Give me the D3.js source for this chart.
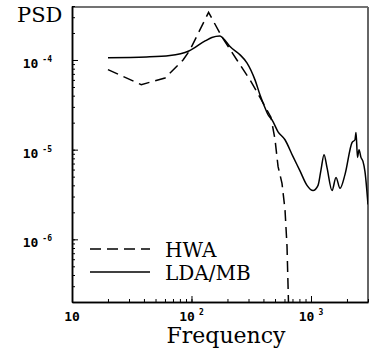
<!DOCTYPE html>
<html>
<head>
<meta charset="utf-8">
<script src="https://cdn.jsdelivr.net/npm/d3@7/dist/d3.min.js"></script>
<style>
	html, body { margin: 0; padding: 0; background: #fff; }
	svg { display: block; }
</style>
</head>
<body>
<script>
(function() {
	'use strict';

	// DATA //

	var hwaFreq = [ 20, 38, 60, 85, 97, 139, 180, 240, 309, 353, 420, 462, 500, 530, 572, 606, 630, 648 ],
		hwaPsd = [ 7.8e-5, 5.3e-5, 6.3e-5, 1.0e-4, 1.29e-4, 3.4e-4, 1.8e-4, 1.0e-4, 6.0e-5, 4.4e-5, 2.9e-5, 2.3e-5, 1.3e-5, 6.5e-6, 4.2e-6, 2.15e-6, 8.4e-7, 2.0e-7 ];

	var ldaFreq = [ 20, 42, 66, 95, 130, 148, 173, 183, 210, 255, 291, 340, 374, 412, 437, 472, 530, 606, 706, 809, 926, 1040, 1146, 1214, 1286, 1362, 1500, 1620, 1750, 1927, 2204, 2335, 2382, 2450, 2523, 2620, 2723, 2830, 3000 ],
		ldaPsd = [ 1.06e-4, 1.08e-4, 1.12e-4, 1.26e-4, 1.63e-4, 1.78e-4, 1.85e-4, 1.76e-4, 1.41e-4, 1.14e-4, 9.3e-5, 6.0e-5, 4.1e-5, 2.93e-5, 2.45e-5, 2.15e-5, 1.58e-5, 1.29e-5, 8.4e-6, 5.8e-6, 4.0e-6, 3.5e-6, 4.0e-6, 6.0e-6, 8.8e-6, 6.3e-6, 3.5e-6, 4.9e-6, 3.7e-6, 5.3e-6, 1.2e-5, 1.29e-5, 1.55e-5, 8.2e-6, 1.0e-5, 8.2e-6, 7.4e-6, 5.7e-6, 2.45e-6 ];

	var seriesNames = [ 'HWA', 'LDA/MB' ],
		xDomain = [ 10, 3000 ],
		yDomain = [ 2e-7, 4e-4 ],
		xTickValues = [ 10, 100, 1000 ],
		xTickExps = [ '', '2', '3' ],
		yTickValues = [ 1e-4, 1e-5, 1e-6 ],
		yTickExps = [ '-4', '-5', '-6' ];


	// FIGURE //

	var w = 375,
		h = 351,
		left = 72,
		right = 368,
		top = 6,
		bottom = 302,
		x, y, svg, graph, series, legend;

	x = d3.scaleLog().domain( xDomain ).range( [ left, right ] );
	y = d3.scaleLog().domain( yDomain ).range( [ bottom, top ] );

	svg = d3.select( 'body' ).append( 'svg' )
		.attr( 'width', w )
		.attr( 'height', h );

	// Clip the curves to the plot area:
	svg.append( 'clipPath' )
		.attr( 'id', 'plot-clip' )
	  .append( 'rect' )
		.attr( 'x', left )
		.attr( 'y', top )
		.attr( 'width', right - left )
		.attr( 'height', bottom - top );

	// Frame (top and right are grey in the original):
	svg.append( 'line' )
		.attr( 'x1', left ).attr( 'x2', right )
		.attr( 'y1', top + 1 ).attr( 'y2', top + 1 )
		.attr( 'stroke', '#444' ).attr( 'stroke-width', 1.5 );
	svg.append( 'line' )
		.attr( 'x1', right ).attr( 'x2', right )
		.attr( 'y1', top + 1 ).attr( 'y2', bottom )
		.attr( 'stroke', '#666' ).attr( 'stroke-width', 2 );

	// Axes (ticks point inward):
	function styleAxis( g ) {
		g.select( '.domain' ).attr( 'stroke', '#000' ).attr( 'stroke-width', 1.5 );
		g.selectAll( '.tick line' ).attr( 'stroke', '#000' ).attr( 'stroke-width', 1 );
		g.selectAll( '.tick text' ).remove();
	}

	svg.append( 'g' )
		.attr( 'transform', 'translate(0,' + bottom + ')' )
		.call( d3.axisBottom( x ).tickValues( x.ticks() ).tickSizeInner( -3 ).tickSizeOuter( 0 ) )
		.call( styleAxis );
	svg.append( 'g' )
		.attr( 'transform', 'translate(0,' + bottom + ')' )
		.call( d3.axisBottom( x ).tickValues( xTickValues ).tickSizeInner( -6 ).tickSizeOuter( 0 ) )
		.call( styleAxis );

	svg.append( 'g' )
		.attr( 'transform', 'translate(' + left + ',0)' )
		.call( d3.axisLeft( y ).tickValues( y.ticks() ).tickSizeInner( -3 ).tickSizeOuter( 0 ) )
		.call( styleAxis );
	svg.append( 'g' )
		.attr( 'transform', 'translate(' + left + ',0)' )
		.call( d3.axisLeft( y ).tickValues( yTickValues ).tickSizeInner( -6 ).tickSizeOuter( 0 ) )
		.call( styleAxis );

	// Tick labels with superscripts:
	function tickLabel( sel, exps ) {
		sel.append( 'tspan' ).text( '10' );
		sel.append( 'tspan' )
			.attr( 'dx', 4 )
			.attr( 'dy', -6 )
			.attr( 'font-size', 8 )
			.text( function ( d, i ) { return exps[ i ]; } );
	}

	svg.append( 'g' )
		.attr( 'font-family', 'DejaVu Sans Mono' )
		.attr( 'font-weight', 'bold' )
		.attr( 'font-size', 13 )
		.selectAll( 'text' )
		.data( xTickValues )
	  .enter().append( 'text' )
		.attr( 'x', function ( d ) { return x( d ); } )
		.attr( 'y', 321 )
		.attr( 'text-anchor', 'middle' )
		.call( tickLabel, xTickExps );

	svg.append( 'g' )
		.attr( 'font-family', 'DejaVu Sans Mono' )
		.attr( 'font-weight', 'bold' )
		.attr( 'font-size', 13 )
		.selectAll( 'text' )
		.data( yTickValues )
	  .enter().append( 'text' )
		.attr( 'x', 52 )
		.attr( 'y', function ( d ) { return y( d ) + 8; } )
		.attr( 'text-anchor', 'end' )
		.call( tickLabel, yTickExps );

	// Axis titles:
	svg.append( 'text' )
		.attr( 'x', 17 )
		.attr( 'y', 22 )
		.attr( 'font-family', 'DejaVu Serif' )
		.attr( 'font-size', 21 )
		.text( 'PSD' );
	svg.append( 'text' )
		.attr( 'x', 226 )
		.attr( 'y', 343 )
		.attr( 'text-anchor', 'middle' )
		.attr( 'font-family', 'DejaVu Serif' )
		.attr( 'font-size', 22 )
		.text( 'Frequency' );

	// Curves (HWA is piecewise linear, LDA/MB smooth):
	series = [
		{ name: seriesNames[ 0 ], data: d3.zip( hwaFreq, hwaPsd ), dash: '11,6', curve: d3.curveLinear },
		{ name: seriesNames[ 1 ], data: d3.zip( ldaFreq, ldaPsd ), dash: null, curve: d3.curveMonotoneX }
	];

	graph = svg.append( 'g' ).attr( 'clip-path', 'url(#plot-clip)' );

	graph.selectAll( 'path' )
		.data( series )
	  .enter().append( 'path' )
		.attr( 'd', function ( d ) {
			return d3.line()
				.x( function ( p ) { return x( p[ 0 ] ); } )
				.y( function ( p ) { return y( p[ 1 ] ); } )
				.curve( d.curve )( d.data );
		})
		.attr( 'fill', 'none' )
		.attr( 'stroke', '#000' )
		.attr( 'stroke-width', 1.5 )
		.attr( 'stroke-dasharray', function ( d ) { return d.dash; } );

	// Legend:
	legend = svg.append( 'g' )
		.selectAll( 'g' )
		.data( series )
	  .enter().append( 'g' )
		.attr( 'transform', function ( d, i ) { return 'translate(90,' + ( 249 + i*23 ) + ')'; } );

	legend.append( 'line' )
		.attr( 'x1', 0 ).attr( 'x2', 60 )
		.attr( 'stroke', '#000' )
		.attr( 'stroke-width', 1.5 )
		.attr( 'stroke-dasharray', function ( d ) { return d.dash; } );

	legend.append( 'text' )
		.attr( 'x', 75 )
		.attr( 'y', 8 )
		.attr( 'font-family', 'DejaVu Serif' )
		.attr( 'font-size', 20 )
		.text( function ( d ) { return d.name; } );

})();
</script>
</body>
</html>
